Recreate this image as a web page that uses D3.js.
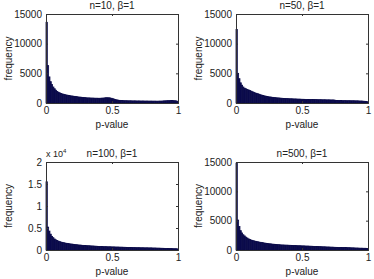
<!DOCTYPE html>
<html><head><meta charset="utf-8">
<script src="https://cdn.jsdelivr.net/npm/d3@7"></script>
<style>body{margin:0;background:#fff}svg{display:block}text{font-family:"Liberation Sans",Arial,sans-serif;fill:#222}</style>
</head><body><svg id="c" width="374" height="279"></svg>
<script>
const titles = ["n=10, \u03b2=1", "n=50, \u03b2=1", "n=100, \u03b2=1", "n=500, \u03b2=1"];
const xTicks = [0, 0.5, 1];
const yTicksA = [0, 5000, 10000, 15000];
const yTicksB = [0, 0.5, 1, 1.5, 2];
const n10 = [13600,6300,4400,3600,3100,2700,2400,2150,1950,1800,
1700,1600,1520,1460,1400,1350,1300,1260,1220,1180,
1150,1120,1080,1050,1020,990,970,950,930,900,
880,860,850,840,830,820,810,800,800,790,
790,800,810,830,860,880,890,880,850,800,
740,660,590,530,480,450,430,410,400,390,
380,375,370,365,360,355,350,350,345,340,
340,335,330,330,325,320,320,315,315,310,
310,310,305,300,300,305,310,320,330,350,
370,380,390,400,410,420,400,380,350,300];
const n50 = [12400,5000,4100,3400,3000,2700,2500,2400,2300,2200,
2100,2000,1900,1800,1700,1630,1560,1480,1400,1320,
1250,1200,1150,1100,1060,1020,990,960,930,900,
880,860,840,820,800,780,760,750,740,730,
720,710,700,690,680,670,660,650,640,630,
620,615,610,605,600,595,590,585,580,575,
570,565,560,555,550,545,540,535,530,525,
520,515,510,505,500,440,420,415,410,405,
400,400,395,390,390,385,380,380,375,370,
365,360,350,340,330,320,300,280,250,220];
const n100 = [15500,5200,4300,3600,3100,2800,2500,2300,2150,2000,
1900,1800,1720,1650,1580,1520,1470,1420,1380,1340,
1300,1260,1220,1180,1150,1120,1090,1060,1040,1020,
1000,980,960,940,920,900,880,860,840,820,
800,790,780,770,760,750,740,730,720,710,
700,690,680,670,660,650,640,630,620,610,
600,590,580,570,560,550,545,540,535,530,
520,515,510,500,495,490,485,480,475,470,
460,450,440,430,420,410,400,390,380,370,
360,350,340,330,320,310,300,290,280,260];
const n500 = [14800,5100,4000,3300,2900,2600,2400,2200,2050,1900,
1800,1700,1620,1560,1500,1450,1400,1350,1310,1270,
1230,1190,1150,1120,1090,1060,1030,1000,980,960,
940,920,900,880,860,850,840,830,820,810,
800,790,780,770,760,750,740,730,720,710,
700,690,680,670,660,650,640,630,620,610,
600,590,580,570,560,550,540,530,520,510,
500,490,480,470,460,450,445,440,435,430,
425,420,415,410,400,390,380,370,360,350,
340,330,320,310,300,300,290,290,280,270];
const series = [n10, n50, n100, n500];

const svg = d3.select("#c");
const panels = [
  {x0:46, x1:178, y0:14, y1:103, ymax:15000, ticks:yTicksA, scale:1},
  {x0:236, x1:368, y0:14, y1:103, ymax:15000, ticks:yTicksA, scale:1},
  {x0:46, x1:178, y0:162, y1:250, ymax:20000, ticks:yTicksB, scale:10000},
  {x0:236, x1:368, y0:162, y1:250, ymax:15000, ticks:yTicksA, scale:1}
];
panels.forEach((p, i) => {
  const data = series[i];
  const nb = data.length;
  const x = d3.scaleLinear().domain([0,1]).range([p.x0, p.x1]);
  const y = d3.scaleLinear().domain([0,p.ymax]).range([p.y1, p.y0]);
  const g = svg.append("g");
  g.selectAll("rect").data(data).join("rect")
    .attr("x", (d,k) => x(k/nb))
    .attr("width", (d,k) => x((k+1)/nb) - x(k/nb))
    .attr("y", d => y(d))
    .attr("height", d => p.y1 - y(d))
    .attr("fill", "#0c0c52")
    .attr("stroke", "#0a0a48").attr("stroke-width", 0.8);
  const xa = g.append("g").attr("transform", `translate(0,${p.y1})`)
    .call(d3.axisBottom(x).tickValues(xTicks).tickSize(-2).tickPadding(4).tickFormat(d3.format("")));
  const ya = g.append("g").attr("transform", `translate(${p.x0},0)`)
    .call(d3.axisLeft(y).tickValues(p.ticks.map(t => t*p.scale)).tickSize(-2).tickPadding(4)
      .tickFormat(d => d3.format("")(d/p.scale)));
  g.append("g").attr("transform", `translate(0,${p.y0})`)
    .call(d3.axisTop(x).tickValues(xTicks).tickSize(-2).tickFormat(""));
  g.append("g").attr("transform", `translate(${p.x1},0)`)
    .call(d3.axisRight(y).tickValues(p.ticks.map(t => t*p.scale)).tickSize(-2).tickFormat(""));
  g.selectAll(".domain").attr("stroke", "#333").attr("stroke-width", 1);
  g.selectAll(".tick line").attr("stroke", "#333");
  g.selectAll(".tick text").attr("font-size", 10).attr("fill", "#222")
    .style("font-family", '"Liberation Sans", Arial, sans-serif');
  const cx = (p.x0 + p.x1)/2;
  g.append("text").attr("x", cx).attr("y", p.y0 - 5).attr("text-anchor", "middle")
    .attr("font-size", 10).text(titles[i]);
  g.append("text").attr("x", cx).attr("y", p.y1 + 25).attr("text-anchor", "middle")
    .attr("font-size", 10).text("p-value");
  g.append("text").attr("transform", `translate(${p.x0 - 34},${(p.y0+p.y1)/2}) rotate(-90)`)
    .attr("text-anchor", "middle").attr("font-size", 10).text("frequency");
  if (p.scale !== 1) {
    const t = g.append("text").attr("x", p.x0).attr("y", p.y0 - 5).attr("font-size", 9);
    t.append("tspan").text("x 10");
    t.append("tspan").attr("dy", -4).attr("font-size", 6).text("4");
  }
});
</script></body></html>
